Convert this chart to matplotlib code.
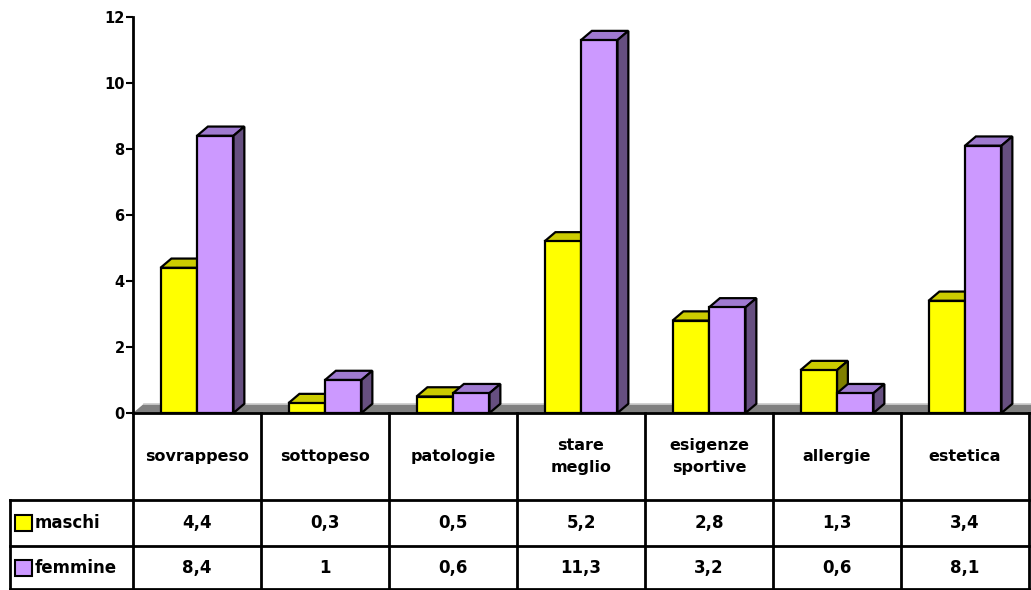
import matplotlib
matplotlib.use("Agg")
import matplotlib.pyplot as plt
from matplotlib.patches import Polygon, Rectangle

CATEGORIES = ["sovrappeso", "sottopeso", "patologie", "stare\nmeglio",
              "esigenze\nsportive", "allergie", "estetica"]
MASCHI = [4.4, 0.3, 0.5, 5.2, 2.8, 1.3, 3.4]
FEMMINE = [8.4, 1, 0.6, 11.3, 3.2, 0.6, 8.1]
SERIES = ["maschi", "femmine"]
Y_TICKS = [0, 2, 4, 6, 8, 10, 12]

FRONT = ["#FFFF00", "#CC99FF"]
TOP = ["#CCCC00", "#9F7AD0"]
SIDE = ["#808000", "#664F80"]

W, H = 1031, 590
FONT = dict(family="DejaVu Sans", weight="bold")


def fmt(v):
    return f"{v:g}".replace(".", ",")


fig = plt.figure(figsize=(W / 100, H / 100), dpi=100)

# pixel layout of plot area
x0, x1 = 133, 1029
y_zero, y_top = 413, 17
ax = fig.add_axes([x0 / W, (H - y_zero) / H, (x1 - x0) / W, (y_zero - y_top) / H])
ax.set_xlim(-0.5, len(CATEGORIES) - 0.5)
ax.set_ylim(0, 12)

bw = 0.285
dx, dy = 0.085, 0.28

# floor
ax.add_patch(Polygon([(-0.5, 0), (6.6, 0), (6.6 + dx, dy), (-0.5 + dx, dy)],
                     closed=True, fc="#808080", ec="none", zorder=1, clip_on=False))
ax.plot([-0.5 + dx, 6.6], [dy, dy], color="#D0D0D0", lw=1.2, zorder=1, clip_on=False)

for s, vals in enumerate([MASCHI, FEMMINE]):
    for i, v in enumerate(vals):
        left = i - bw + s * bw
        right = left + bw
        z = 3 + s
        ax.add_patch(Rectangle((left, 0), bw, v, fc=FRONT[s], ec="black", lw=1.6, zorder=z))
        ax.add_patch(Polygon([(left, v), (right, v), (right + dx, v + dy), (left + dx, v + dy)],
                             closed=True, fc=TOP[s], ec="black", lw=1.6, zorder=z - 0.5))
        ax.add_patch(Polygon([(right, 0), (right + dx, dy), (right + dx, v + dy), (right, v)],
                             closed=True, fc=SIDE[s], ec="black", lw=1.6, zorder=z - 0.5))

for sp in ["top", "right", "bottom"]:
    ax.spines[sp].set_visible(False)
ax.spines["left"].set_linewidth(2)
ax.set_xticks([])
ax.set_yticks(Y_TICKS)
ax.set_yticklabels([str(t) for t in Y_TICKS], fontsize=10.5, **FONT)
ax.tick_params(axis="y", length=5, width=1.5, pad=1)

# data table drawn in pixel coordinates
tb = fig.add_axes([0, 0, 1, 1])
tb.set_xlim(0, W)
tb.set_ylim(H, 0)
tb.axis("off")

col_w = (x1 - x0) / len(CATEGORIES)
bounds = [x0 + k * col_w for k in range(len(CATEGORIES) + 1)]
row_y = [413, 500, 546, 590]
lk = dict(color="black", lw=2, solid_capstyle="projecting")

tb.plot([x0, x1], [row_y[0], row_y[0]], **lk)
tb.plot([10, x1], [row_y[1], row_y[1]], **lk)
tb.plot([10, x1], [row_y[2], row_y[2]], **lk)
tb.plot([10, x1], [589, 589], **lk)
tb.plot([10, 10], [row_y[1], 590], **lk)
for bx in bounds:
    tb.plot([bx, bx], [row_y[0], 590], **lk)

for i, cat in enumerate(CATEGORIES):
    cx = (bounds[i] + bounds[i + 1]) / 2
    tb.text(cx, (row_y[0] + row_y[1]) / 2, cat, ha="center", va="center",
            fontsize=11.5, linespacing=1.6, **FONT)
    for r, vals in enumerate([MASCHI, FEMMINE]):
        tb.text(cx, (row_y[r + 1] + row_y[r + 2]) / 2, fmt(vals[i]),
                ha="center", va="center", fontsize=12, **FONT)

for r, name in enumerate(SERIES):
    cy = (row_y[r + 1] + row_y[r + 2]) / 2
    tb.add_patch(Rectangle((15, cy - 8), 17, 16, fc=FRONT[r], ec="black", lw=1.5))
    tb.text(35, cy, name, ha="left", va="center", fontsize=12, **FONT)

fig.savefig("out.png", dpi=100)
